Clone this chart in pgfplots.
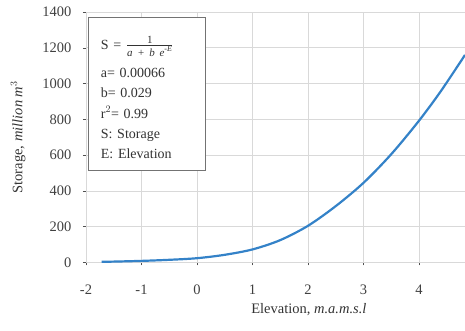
\documentclass[border=0pt]{standalone}
\usepackage{fontspec}
\setmainfont{Liberation Serif}
\usepackage{pgfplots}
\pgfplotsset{compat=1.18}
\definecolor{curve}{RGB}{52,130,200}
\definecolor{gridc}{RGB}{217,217,217}
\definecolor{tickc}{RGB}{80,80,80}
\newcommand{\fs}[1]{\mbox{\fontsize{11}{12}\selectfont #1}}
\begin{document}
\begin{tikzpicture}
\begin{axis}[
  scale only axis,
  width=379pt, height=250.5pt,
  xmin=-2, xmax=4.83,
  ymin=0, ymax=1400,
  xtick={-2,-1,0,1,2,3,4},
  ytick={0,200,400,600,800,1000,1200,1400},
  grid=major,
  major grid style={draw=gridc, line width=0.8pt},
  axis x line*=bottom, axis y line*=left,
  axis line style={draw=gridc, line width=0.8pt},
  tick style={draw=tickc, line width=0.5pt},
  major tick length=3pt,
  tick align=outside,
  /pgf/number format/assume math mode=true,
  /pgf/number format/1000 sep={},
  ticklabel style={font=\fontsize{14.5}{17}\selectfont, text=black!75},
  xticklabel style={yshift=-16pt},
  yticklabel style={xshift=-8pt},
  xlabel={Elevation, \textit{m.a.m.s.l}},
  ylabel={Storage, \textit{million m}$^{3}$},
  xlabel style={at={(axis description cs:0.588,0)}, anchor=center, yshift=-47.5pt, font=\fontsize{14.5}{17}\selectfont, text=black!80},
  ylabel style={at={(axis description cs:-0.1794,0.5)}, anchor=center, font=\fontsize{14.5}{17}\selectfont, text=black!80},
  clip=false,
]
\addplot[curve, line width=2.2pt, smooth] coordinates {
(-1.72,4) (-1.5,5) (-1.0,9) (-0.5,15) (0,24) (0.5,43) (1,73) (1.5,125)
(2,205) (2.5,315) (3,445) (3.5,605) (4,792) (4.4,960) (4.83,1160)
};
\draw[draw=black!55, line width=0.8pt, fill=white]
  (rel axis cs:0.0053,0.980) rectangle (rel axis cs:0.314,0.369);
\node[anchor=north west, align=left, inner sep=0pt,
  text width=100pt, font=\fontsize{14}{20.3}\selectfont, text=black!80]
  at (rel axis cs:0.0388,0.904) {%
  S = $\frac{\fs{1}}{\fs{\itshape a + b e}^{\mbox{\fontsize{8}{9}\selectfont\itshape -E}}}$\\[8pt]
  a= 0.00066\\
  b= 0.029\\
  r$^{2}$= 0.99\\
  S: Storage\\
  E: Elevation};
\end{axis}
\pgfresetboundingbox
\path (-86pt,-68.5pt) rectangle (379pt,262.5pt);
\end{tikzpicture}
\end{document}
